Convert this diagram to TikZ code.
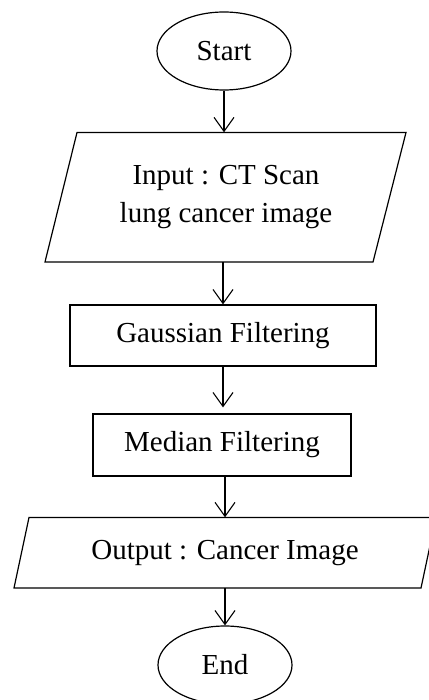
\documentclass[tikz,border=0pt]{standalone}
\usepackage{fontspec}
\setmainfont{Liberation Serif}
\usetikzlibrary{shapes.geometric,arrows.meta}
\begin{document}
\begin{tikzpicture}[x=1pt,y=-1pt,
  every node/.style={font=\fontsize{29}{38}\selectfont, inner sep=0pt},
  oval/.style={draw, line width=1.2pt, ellipse, minimum width=134pt, minimum height=78pt},
  box/.style={draw, line width=1.2pt, rectangle},
  para/.style={draw, line width=1.2pt, line join=miter},
  arr/.style={line width=1.1pt, -{Straight Barb[length=14pt,width=20pt,line width=1.1pt]}}]
\useasboundingbox (0,0) rectangle (428,700);
\fill[white] (0,0) rectangle (428,700);
% Start
\node[oval] (start) at (224,51) {Start};
% Input parallelogram
\draw[para] (77,132.5) -- (406,132.5) -- (373,262) -- (45,262) -- cycle;
\node[align=center, minimum height=129.5pt, minimum width=300pt] (in) at (226,197.25) {Input : CT Scan\\lung cancer image};
% Gaussian
\node[box, minimum width=306pt, minimum height=61pt] (g) at (223,335.5) {Gaussian Filtering};
% Median
\node[box, minimum width=258pt, minimum height=62pt] (m) at (222,445) {Median Filtering};
% Output parallelogram
\draw[para] (29,517.5) -- (436,517.5) -- (421,588) -- (14,588) -- cycle;
\node[minimum height=70.5pt, minimum width=300pt] (out) at (225,552.75) {Output : Cancer Image};
% End
\node[oval] (end) at (225,665) {End};
% connectors
\draw[arr] (start.south) -- (start.south |- in.north);
\draw[arr] (in.south -| g.north) -- (g.north);
\draw[arr, shorten >=6pt] (g.south) -- (g.south |- m.north);
\draw[arr] (m.south -| out.north) -- (out.north);
\draw[arr] (out.south) -- (end.north);
\end{tikzpicture}
\end{document}
